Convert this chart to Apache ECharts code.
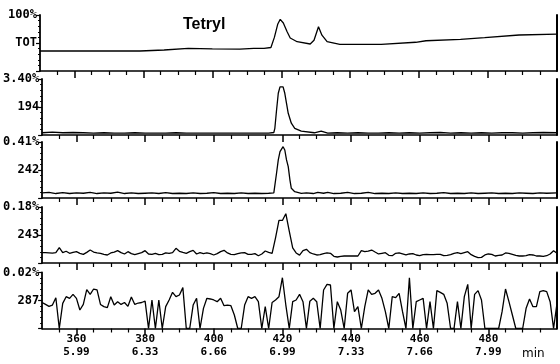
<!DOCTYPE html>
<html><head><meta charset="utf-8">
<script src="https://cdn.jsdelivr.net/npm/echarts@6/dist/echarts.min.js"></script>
<style>html,body{margin:0;padding:0;background:#fff}#c{width:560px;height:364px}</style>
</head><body><div id="c"></div>
<script>
// ---- data ----
const panelNames = ['TOT', '194', '242', '243', '287'];
const fullScale = ['100%', '3.40%', '0.41%', '0.18%', '0.02%'];
const tickScans = [360, 380, 400, 420, 440, 460, 480];
const tickTimes = ['5.99', '6.33', '6.66', '6.99', '7.33', '7.66', '7.99'];
const minorScans = [355, 365, 370, 375, 385, 390, 395, 405, 410, 415, 425, 430, 435, 445, 450, 455, 465, 470, 475, 485, 490, 495];

// TOT (percent of panel full scale)
const totScans = [350, 365, 379, 386, 393, 400, 408, 412, 415, 417, 418, 419, 419.7, 420.6, 421.7, 422.6, 424.6, 428.4, 429.5, 430.8, 431.8, 433.3, 437, 449, 459, 462, 472, 479, 489, 500];
const totVals  = [35.7, 35.7, 35.7, 37.5, 40.5, 39.5, 39, 40.5, 40.5, 42, 60, 84, 92.3, 85.7, 70, 59, 52.3, 48.2, 55, 79, 64, 52.3, 47.7, 47.7, 51.3, 54, 56.6, 59.5, 64.3, 66];

// m/z 194
const m194Scans = [350, 353, 356, 359, 362, 365, 368, 371, 374, 377, 380, 383, 386, 389, 392, 395, 398, 401, 404, 407, 410, 413, 416, 417.5, 417.8, 418.3, 418.8, 419.3, 419.7, 420.2, 420.7, 421.2, 421.7, 422.6, 423.6, 425.5, 429.3, 431.3, 433.2, 436, 439, 442, 445, 448, 451, 454, 457, 460, 463, 466, 469, 472, 475, 478, 481, 484, 487, 490, 493, 496, 500];
const m194Vals  = [4, 5, 4, 4.5, 4, 3.5, 4, 3.5, 3.5, 4, 3.5, 3.5, 3.5, 4, 3.5, 3.5, 3.5, 3.5, 3.5, 3.5, 3.5, 3.5, 3.5, 4.5, 12, 44.6, 74.5, 86, 89, 86, 74.5, 56.6, 38.8, 21, 12, 7, 4, 7, 3.5, 4, 3.5, 4, 3.5, 3.5, 4, 3.5, 4, 3.5, 4, 4.5, 3.5, 4, 3.5, 4, 3.5, 4, 4, 3.5, 4, 4.5, 4];

// m/z 242
const m242Scans = [350, 352, 354, 356, 358, 360, 362, 364, 366, 368, 370, 372, 374, 376, 378, 380, 382, 384, 386, 388, 390, 392, 394, 396, 398, 400, 402, 404, 406, 408, 410, 412, 414, 416, 417.5, 417.8, 418.3, 418.8, 419.3, 420.2, 420.7, 421.2, 421.7, 422.2, 422.6, 423.6, 425.5, 427, 429, 430.3, 432, 433.2, 435, 437, 439, 441, 443, 445, 447, 449, 451, 453, 455, 457, 459, 461, 463, 465, 467, 469, 471, 473, 475, 477, 479, 481, 483, 485, 487, 489, 491, 493, 495, 497, 500];
const m242Vals  = [9, 10, 8, 9.5, 8, 9, 8.5, 10, 8, 9, 8.5, 10.5, 8, 9, 8, 8.5, 9, 8, 9.5, 8, 8.5, 8, 9, 8, 8.5, 9.5, 8, 8.5, 8, 9, 8, 8.5, 8, 8.5, 9, 10, 44.6, 68, 82.7, 91.6, 85.7, 68, 56, 32, 17.3, 11.3, 8.4, 9, 8, 10, 8.5, 10, 8, 8.5, 10, 8, 8.5, 10, 8, 8.5, 8, 9, 8, 8.5, 8, 9, 8, 8.5, 9.5, 8, 8.5, 8, 9, 8, 8.5, 9, 8, 8.5, 8, 9, 8.5, 8, 9, 8.5, 9];

// per-scan traces, scans 350..500
const scanStart = 350;
const m243Vals = [
  18.5, 18.5, 18, 17.5, 18.5, 27.4, 18.5, 21, 17.3, 19,
  20.2, 17.3, 15.5, 19, 23.2, 19.6, 17.9, 17.3, 15.5, 14.3,
  17.9, 19.6, 22, 18.5, 16.1, 20.2, 16.7, 14.9, 16.7, 18.5,
  22, 16.1, 15.5, 17.3, 14.9, 15.5, 17.9, 17.3, 18.5, 26.2,
  20.8, 19, 17.3, 20.2, 22.6, 16.1, 18.5, 16.7, 17.9, 16.7,
  14.3, 16.7, 20.2, 22.6, 17.9, 15.5, 14.9, 16.7, 17.9, 18.5,
  15.5, 15.5, 16.7, 13, 16.1, 21.4, 19, 17.3, 45, 76,
  76, 88, 57, 27, 18, 14, 22, 24.4, 18.5, 16.1,
  14.3, 14.9, 16.7, 17.9, 17.3, 11.9, 10.7, 11.9, 12.5, 12.5,
  12.5, 12.5, 12.5, 22, 20.2, 21.4, 23.2, 19.6, 16.1, 17.3,
  18.5, 13.7, 13, 17.3, 17.9, 16.1, 14.3, 16.1, 16.7, 14.3,
  13, 14.9, 15.5, 14.9, 14.9, 15.5, 15.5, 13, 13.7, 14.9,
  17.3, 18.5, 16.7, 18.5, 20.2, 14.9, 11.9, 9.5, 10.1, 14.3,
  16.1, 15.5, 12.5, 13.7, 14.3, 17.9, 17.3, 15.5, 13.7, 12.5,
  12.5, 13, 14.9, 14.3, 12.5, 12.5, 11.9, 13, 16.1, 22,
  17.3
];
const m287Vals = [
  46.4, 43, 39.6, 41.9, 55, 0, 44.9, 56.8, 53.9, 61,
  53.9, 33, 43, 69.4, 61, 70.5, 68.8, 43, 39, 37.2,
  56.8, 41.9, 47.9, 43, 46.4, 39.6, 56.2, 43, 45.5, 46.4,
  48.8, 0, 50.9, 0, 50.9, 0, 39, 50.9, 64.6, 56.8,
  59.8, 73, 0, 0, 41.9, 53.9, 0, 36, 53.9, 52.7,
  50.9, 47.9, 53.9, 40.8, 41.9, 40.8, 24.1, 0, 0, 41.9,
  56.8, 53.9, 56.8, 47.9, 0, 39, 0, 46.4, 50.9, 56.8,
  90.7, 41.9, 0, 47.9, 50.9, 61, 47.9, 0, 48.8, 53.9,
  47.9, 0, 68.8, 78.9, 77.7, 0, 47.9, 33, 0, 62.8,
  68.8, 30, 39, 0, 39, 68.8, 61, 62.8, 68.8, 53.9,
  30, 0, 56.8, 55, 62.8, 30, 0, 90.7, 0, 47.9,
  50.9, 53.9, 0, 47.9, 0, 67.6, 64.6, 61, 44.9, 0,
  0, 47.9, 0, 56.8, 78.9, 0, 61, 67.6, 50.9, 0,
  0, 0, 0, 0, 30, 70.5, 47.9, 24.1, 0, 0,
  0, 36, 52.7, 39, 39, 65.8, 67.6, 65.8, 47.9, 0,
  44.9
];

// ---- build ----
const zip = (xs, ys) => xs.map((x, i) => [x, ys[i]]);
const perScan = (ys) => ys.map((y, i) => [scanStart + i, y]);
const traces = [
  zip(totScans, totVals),
  zip(m194Scans, m194Vals),
  zip(m242Scans, m242Vals),
  perScan(m243Vals),
  perScan(m287Vals)
];

const gridTops = [15, 79, 142, 207, 272.5];
const gridH = 56;
const grids = [], xAxes = [], yAxes = [], series = [];
const monoBold = { fontFamily: 'DejaVu Sans Mono', fontWeight: 'bold', color: '#000' };

for (let i = 0; i < 5; i++) {
  grids.push({ left: 40, right: 3, top: gridTops[i], height: gridH });
  const last = i === 4;
  xAxes.push({
    gridIndex: i, type: 'value', min: 350, max: 500, position: 'bottom',
    axisLine: { show: true, onZero: false, lineStyle: { color: '#000', width: 1.5 } },
    axisTick: { show: true, customValues: tickScans, length: 7, lineStyle: { color: '#000', width: 1.5 } },
    axisLabel: last ? Object.assign({
      customValues: tickScans, fontSize: 11, lineHeight: 13, margin: 4,
      formatter: v => { const k = tickScans.indexOf(v); return k < 0 ? '' : v + '\n' + tickTimes[k]; }
    }, monoBold) : { show: false },
    splitLine: { show: false }
  });
  xAxes.push({
    gridIndex: i, type: 'value', min: 350, max: 500, position: 'bottom',
    axisLine: { show: false },
    axisTick: { show: true, customValues: minorScans, length: 4, lineStyle: { color: '#000', width: 1.2 } },
    axisLabel: { show: false }, splitLine: { show: false }
  });
  yAxes.push({
    gridIndex: i, type: 'value', min: 0, max: 100, interval: 50,
    axisLine: { show: true, lineStyle: { color: '#000', width: 1.8 } },
    axisTick: { show: true, length: 4, lineStyle: { color: '#000', width: 1.2 } },
    minorTick: { show: true, splitNumber: 5, length: 2, lineStyle: { color: '#000', width: 1 } },
    axisLabel: Object.assign({
      fontSize: 12, margin: 3,
      formatter: v => v === 100 ? fullScale[i] : (v === 50 ? panelNames[i] : '')
    }, monoBold),
    splitLine: { show: false }
  });
  yAxes.push({
    gridIndex: i, type: 'value', min: 0, max: 100, position: 'right',
    axisLine: { show: true, lineStyle: { color: '#000', width: 2 } },
    axisTick: { show: false }, axisLabel: { show: false }, splitLine: { show: false }
  });
  series.push({
    type: 'line', xAxisIndex: 2 * i, yAxisIndex: 2 * i, data: traces[i],
    showSymbol: false, symbol: 'none', smooth: false,
    lineStyle: { color: '#000', width: 1.3 }
  });
}

const chart = echarts.init(document.getElementById('c'), null, { renderer: 'canvas' });
chart.setOption({
  animation: false,
  backgroundColor: '#fff',
  title: {
    text: 'Tetryl', left: 178, top: 12,
    textStyle: { fontFamily: 'Liberation Sans', fontWeight: 'bold', fontSize: 16, color: '#000' }
  },
  graphic: [{
    type: 'text', left: 522, top: 348,
    style: { text: 'min', font: '12px "DejaVu Sans"', fill: '#000' }
  }],
  grid: grids, xAxis: xAxes, yAxis: yAxes, series: series
});
</script>
</body></html>
